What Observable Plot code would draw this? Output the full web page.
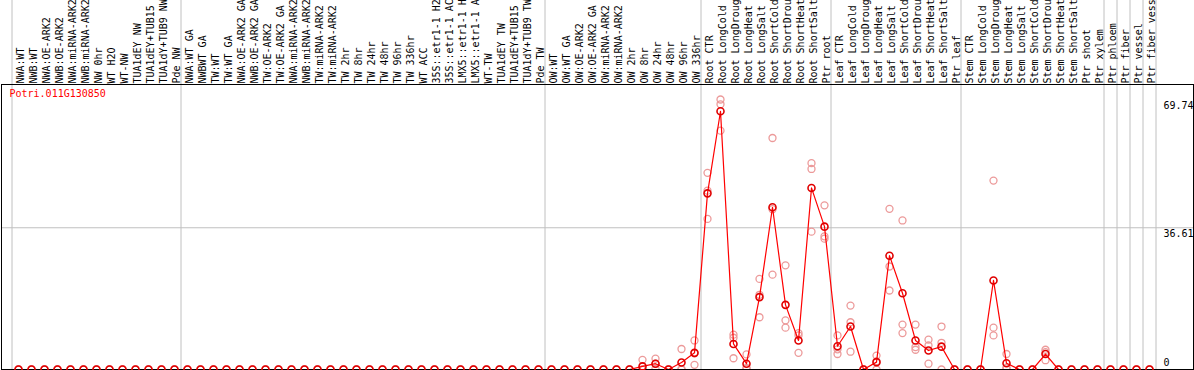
<!DOCTYPE html>
<html><head><meta charset="utf-8">
<script src="https://cdn.jsdelivr.net/npm/d3@7"></script>
<script src="https://cdn.jsdelivr.net/npm/@observablehq/plot@0.6"></script>
<style>body{margin:0;background:#fff}</style>
</head><body><div id="chart"></div>
<script>
const seriesName = "Potri.011G130850";
const labels = [
  "NWA:WT","NWB:WT","NWA:OE-ARK2","NWB:OE-ARK2","NWA:miRNA-ARK2","NWB:miRNA-ARK2","NW 0hr","WT H2O","WT-NW","TUA1dEY NW","TUA1dEY+TUB15 NW","TUA1dY+TUB9 NW","Pde NW",
  "NWA:WT GA","NWBWT GA","TW:WT","TW:WT GA","NWA:OE-ARK2 GA","NWB:OE-ARK2 GA","TW:OE-ARK2","TW:OE-ARK2 GA","NWA:miRNA-ARK2","NWB:miRNA-ARK2","TW:miRNA-ARK2","TW:miRNA-ARK2",
  "TW 2hr","TW 8hr","TW 24hr","TW 48hr","TW 96hr","TW 336hr","WT ACC","35S::etr1-1 H2O","35S::etr1-1 ACC","LMX5::etr1-1 H2O","LMX5::etr1-1 ACC","WT-TW","TUA1dEY TW","TUA1dEY+TUB15 TW","TUA1dY+TUB9 TW","Pde TW",
  "OW:WT","OW:WT GA","OW:OE-ARK2","OW:OE-ARK2 GA","OW:miRNA-ARK2","OW:miRNA-ARK2","OW 2hr","OW 8hr","OW 24hr","OW 48hr","OW 96hr","OW 336hr",
  "Root CTR","Root LongCold","Root LongDrought","Root LongHeat","Root LongSalt","Root ShortCold","Root ShortDrought","Root ShortHeat","Root ShortSalt","Ptr root",
  "Leaf CTR","Leaf LongCold","Leaf LongDrought","Leaf LongHeat","Leaf LongSalt","Leaf ShortCold","Leaf ShortDrought","Leaf ShortHeat","Leaf ShortSalt","Ptr leaf",
  "Stem CTR","Stem LongCold","Stem LongDrought","Stem LongHeat","Stem LongSalt","Stem ShortCold","Stem ShortDrought","Stem ShortHeat","Stem ShortSalt","Ptr shoot",
  "Ptr xylem","Ptr phloem","Ptr fiber","Ptr vessel","Ptr fiber vessel"
];
const means = [
  0,0,0,0,0,0,0,0,0,0,0,0,0,
  0,0,0,0,0,0,0,0,0,0,0,0,0,0,0,0,0,0,0,0,0,0,0,0,0,0,0,0,
  0,0,0,0,0,0,0,0.8,1.5,0,1.8,4.3,
  45.5,66.7,6.6,1.5,18.7,41.9,16.7,7.5,46.9,36.9,
  6.0,11.1,0,1.9,29.4,19.7,7.5,4.9,5.9,0,
  0,0,23.0,1.6,0,0,4.0,0,0,0,
  0,0,0,0,0
];
const replicates = [
  [0,0,0],[0,0,0],[0,0,0],[0,0,0],[0,0,0],[0,0,0],[0,0,0],[0,0,0],[0,0,0],[0,0,0],[0,0,0],[0,0,0],[0,0,0],
  [0,0,0],[0,0,0],[0,0,0],[0,0,0],[0,0,0],[0,0,0],[0,0,0],[0,0,0],[0,0,0],[0,0,0],[0,0,0],[0,0,0],[0,0,0],[0,0,0],
  [0,0,0],[0,0,0],[0,0,0],[0,0,0],[0,0,0],[0,0,0],[0,0,0],[0,0,0],[0,0,0],[0,0,0],[0,0,0],[0,0,0],[0,0,0],[0,0,0],
  [0,0,0],[0,0,0],[0,0,0],[0,0,0],[0,0,0],[0,0,0],[0,0,0],[2.5,0,0],[2.8,1.5,0.2],[0,0,0],[5.3,0.1,0],[7.5,4.2,1.2],
  [50.8,46.2,38.9],[69.74,68.5,61.7],[9.0,8.2,2.9],[3.9,0.4,0.2],[23.4,19.3,13.5],[59.8,41.4,24.5],[26.9,12.7,10.8],[9.4,8.8,4.3],[53.3,51.8,35.6],[42.4,34.4,33.8],
  [8.8,5.2,4.0],[16.5,12.2,4.6],[0,0,0],[3.6,2.1,0],[41.5,26.6,20.4],[38.5,11.6,9.4],[11.6,5.8,5.1],[7.7,6.2,1.5],[11.1,6.9,0],[0,0,0],
  [0,0,0],[0,0,0],[48.8,10.8,8.8],[4.0,0.5,0.3],[0,0,0],[0,0,0],[5.1,4.5,2.4],[0,0,0],[0,0,0],[0,0,0],
  [0,0,0],[0,0,0],[0,0,0],[0,0,0],[0,0,0]
];
const yTicks = [69.74, 36.61, 0];
const gridY = [36.61];
const groupEnds = [0, 13, 41, 53, 63, 73, 84, 85, 86, 87, 88];

const meanData = means.map((v, i) => ({i: i + 1, v}));
const repData = replicates.flatMap((r, i) => r.map(v => ({i: i + 1, v})));

const chart = Plot.plot({
  width: 1194, height: 370,
  marginTop: 99, marginBottom: 1, marginLeft: 11.5, marginRight: 38.5,
  style: {fontFamily: "'DejaVu Sans Mono', monospace", fontSize: "10px", background: "#fff", overflow: "hidden"},
  x: {type: "linear", domain: [0.5, labels.length + 0.5], axis: null},
  y: {domain: [0, 69.74], axis: null},
  marks: [
    Plot.ruleX(groupEnds, {x: d => d + 0.5, stroke: "#c0c0c0", strokeWidth: 1, strokeOpacity: 1, insetTop: -99}),
    Plot.ruleY(gridY, {y: d => d, stroke: "#c0c0c0", strokeOpacity: 1, insetLeft: -10.5, insetRight: -37.5}),
    Plot.axisX({anchor: "top", ticks: d3.range(1, labels.length + 1), tickFormat: i => labels[i - 1], tickRotate: -90, tickSize: 0, tickPadding: 16, dx: 2.5, label: null, fill: "#000", fontSize: 10}),
    Plot.dot(repData, {x: "i", y: "v", r: 3.5, stroke: "#ec9a9a", strokeWidth: 1.3, fill: "none"}),
    Plot.line(meanData, {x: "i", y: "v", stroke: "#ff0000", strokeWidth: 1.2}),
    Plot.frame({stroke: "#000", strokeWidth: 1, insetTop: -15, insetLeft: -10.5, insetRight: -37.5}),
    Plot.dot(meanData, {x: "i", y: "v", r: 3.5, stroke: "#e00000", strokeWidth: 1.6, fill: "none"}),
    Plot.text([seriesName], {text: d => d, frameAnchor: "top-left", dx: -2.5, dy: -10, lineAnchor: "top", textAnchor: "start", fill: "#ff0000", fontSize: 10}),
    Plot.text(yTicks.filter(d => d > 0), {y: d => d, text: d => String(d), frameAnchor: "right", dx: 7.5, dy: 2, textAnchor: "start", lineAnchor: "top", fill: "#000", fontSize: 10}),
    Plot.text(yTicks.filter(d => d === 0), {y: d => d, text: d => String(d), frameAnchor: "right", dx: 7.5, dy: -4, textAnchor: "start", lineAnchor: "bottom", fill: "#000", fontSize: 10})
  ]
});
document.getElementById("chart").appendChild(chart);
</script>
</body></html>
